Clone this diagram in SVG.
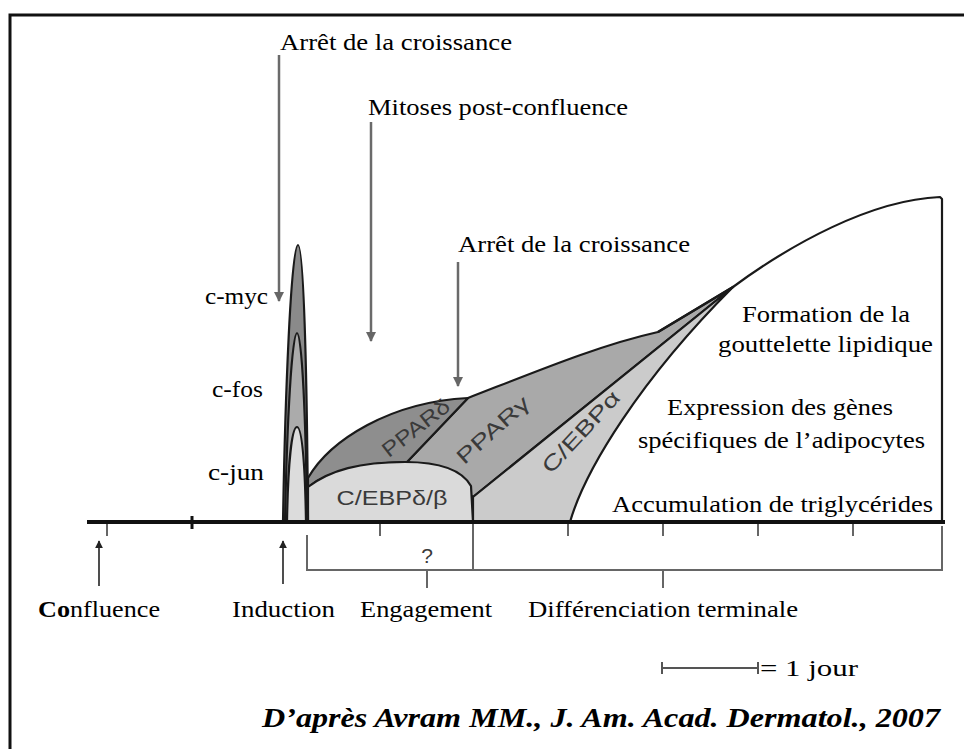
<svg xmlns="http://www.w3.org/2000/svg" width="964" height="749" viewBox="0 0 964 749">
  <defs>
    <marker id="ah" viewBox="0 0 10 10" refX="9" refY="5" markerWidth="4" markerHeight="4" orient="auto" markerUnits="strokeWidth">
      <path d="M0,0 L10,5 L0,10 Z" fill="#666"/>
    </marker>
    <marker id="ahk" viewBox="0 0 10 10" refX="9" refY="5" markerWidth="5" markerHeight="5" orient="auto" markerUnits="strokeWidth">
      <path d="M0,0 L10,5 L0,10 Z" fill="#222"/>
    </marker>
  </defs>
  <style>
    .serif { font-family: "Liberation Serif", "DejaVu Serif", serif; fill: #000; font-size: 24px; }
    .sans { font-family: "Liberation Sans", Arial, sans-serif; fill: #3a3a3a; font-size: 21px; }
    .edge { stroke: #1a1a1a; stroke-width: 2.2; stroke-linejoin: round; }
    .tick { stroke: #666; stroke-width: 2; fill: none; }
    .garrow { stroke: #6a6a6a; stroke-width: 2.5; fill: none; marker-end: url(#ah); }
    .karrow { stroke: #222; stroke-width: 1.6; fill: none; marker-end: url(#ahk); }
  </style>
  <rect width="964" height="749" fill="#fff"/>
  <rect id="frame" x="10" y="15" width="1000" height="800" fill="none" stroke="#111" stroke-width="3"/>

  <!-- areas -->
  <g id="pparg">
    <path class="edge" fill="#a9a9a9" d="M468,398 C540,370 600,345 658,332 L733,287 L473,497 C455,480 430,466 407,462 Z"/>
    <text class="sans" text-anchor="middle" transform="translate(493,430) rotate(-42)" y="7" textLength="90" lengthAdjust="spacingAndGlyphs">PPARγ</text>
  </g>
  <g id="cebpa">
    <path class="edge" fill="#cbcbcb" d="M473,522 L473,497 L733,287 C640,380 585,470 570,522 Z"/>
    <text class="sans" text-anchor="middle" transform="translate(581,432) rotate(-47)" y="7" textLength="104" lengthAdjust="spacingAndGlyphs">C/EBPα</text>
  </g>
  <g id="ppard">
    <path class="edge" fill="#8e8e8e" d="M308,478 C330,440 390,402 468,398 L407,462 C370,462 330,470 308,487 Z"/>
    <text class="sans" text-anchor="middle" transform="translate(416,428) rotate(-38)" y="7" textLength="80" lengthAdjust="spacingAndGlyphs">PPARδ</text>
  </g>
  <g id="cebpdb">
    <path class="edge" fill="#dadada" d="M308,522 L308,487 C330,470 360,462 405,462 C440,462 462,470 471,486 L473,522 Z"/>
    <text class="sans" x="392" y="505" text-anchor="middle" font-size="23" textLength="111" lengthAdjust="spacingAndGlyphs">C/EBPδ/β</text>
  </g>
  <g id="adipocyte">
    <path class="edge" fill="none" d="M658,332 L733,287 C790,245 870,200 940,197 L942,199 L942,522"/>
  </g>

  <!-- early genes peak -->
  <g id="peak">
    <path class="edge" fill="#8a8a8a" stroke-width="2.6" d="M283,522 C285,400 291,245 298,245 C304,245 307,380 308,522 Z"/>
    <path class="edge" fill="#ababab" d="M285,522 C287,420 292,333 297,333 C302,333 306,420 307,522 Z"/>
    <path class="edge" fill="#dcdcdc" d="M287,522 C288,462 292,427 297,427 C302,427 305,462 306,522 Z"/>
    <text class="serif" x="205" y="304" textLength="63" lengthAdjust="spacingAndGlyphs">c-myc</text>
    <text class="serif" x="212" y="397" textLength="51" lengthAdjust="spacingAndGlyphs">c-fos</text>
    <text class="serif" x="208" y="480" textLength="56" lengthAdjust="spacingAndGlyphs">c-jun</text>
  </g>

  <!-- right-hand labels -->
  <g id="labels-right">
    <text class="serif" x="742" y="322" textLength="168" lengthAdjust="spacingAndGlyphs">Formation de la</text>
    <text class="serif" x="718" y="352" textLength="215" lengthAdjust="spacingAndGlyphs">gouttelette lipidique</text>
    <text class="serif" x="667" y="415" textLength="226" lengthAdjust="spacingAndGlyphs">Expression des gènes</text>
    <text class="serif" x="638" y="448" textLength="287" lengthAdjust="spacingAndGlyphs">spécifiques de l’adipocytes</text>
    <text class="serif" x="612" y="512" textLength="321" lengthAdjust="spacingAndGlyphs">Accumulation de triglycérides</text>
  </g>

  <!-- top labels -->
  <g id="label-arret1">
    <text class="serif" x="280" y="50" textLength="232" lengthAdjust="spacingAndGlyphs">Arrêt de la croissance</text>
  </g>
  <g id="label-mitoses">
    <text class="serif" x="368" y="115" textLength="260" lengthAdjust="spacingAndGlyphs">Mitoses post-confluence</text>
  </g>
  <g id="label-arret2">
    <text class="serif" x="458" y="252" textLength="232" lengthAdjust="spacingAndGlyphs">Arrêt de la croissance</text>
  </g>

  <!-- time axis -->
  <g id="axis">
    <line x1="87" y1="522" x2="945" y2="522" stroke="#111" stroke-width="4"/>
    <line x1="192" y1="516" x2="192" y2="529" stroke="#111" stroke-width="3"/>
    <path class="tick" d="M107,524 V536 M380,524 V536 M568,524 V536 M663,524 V536 M758,524 V536 M853,524 V536 M473,524 V570"/>
    <path class="tick" stroke="#555" stroke-width="2.5" d="M307,535 V570 H942 V526"/>
    <path class="tick" d="M427,570 V588 M663,570 V588"/>
    <text class="sans" x="427" y="563" text-anchor="middle" font-size="18" fill="#444">?</text>
  </g>

  <!-- phase labels -->
  <g id="phase-confluence">
    <text class="serif" x="38" y="617" textLength="122" lengthAdjust="spacingAndGlyphs"><tspan font-weight="bold">Co</tspan>nfluence</text>
  </g>
  <g id="phase-induction">
    <text class="serif" x="232" y="617" textLength="103" lengthAdjust="spacingAndGlyphs">Induction</text>
  </g>
  <g id="phase-engagement">
    <text class="serif" x="360" y="617" textLength="132" lengthAdjust="spacingAndGlyphs">Engagement</text>
  </g>
  <g id="phase-differenciation">
    <text class="serif" x="528" y="617" textLength="270" lengthAdjust="spacingAndGlyphs">Différenciation terminale</text>
  </g>

  <!-- connectors -->
  <g id="connectors">
    <line class="garrow" x1="279" y1="55" x2="279" y2="301"/>
    <line class="garrow" x1="371" y1="122" x2="371" y2="341"/>
    <line class="garrow" x1="458" y1="262" x2="458" y2="386"/>
    <line class="karrow" x1="99" y1="586" x2="99" y2="541"/>
    <line class="karrow" x1="283" y1="584" x2="283" y2="541"/>
  </g>

  <!-- scale legend -->
  <g id="legend">
    <path stroke="#555" stroke-width="2" fill="none" d="M662,668 H758 M662,662 V674 M758,662 V674"/>
    <text class="serif" x="760" y="676" font-size="28" textLength="98" lengthAdjust="spacingAndGlyphs">= 1 jour</text>
  </g>

  <!-- source -->
  <g id="citation">
    <text x="262" y="727" font-family="Liberation Serif, DejaVu Serif, serif" font-weight="bold" font-style="italic" font-size="28" fill="#000" textLength="678" lengthAdjust="spacingAndGlyphs">D’après  Avram MM., J. Am. Acad. Dermatol., 2007</text>
  </g>
</svg>
